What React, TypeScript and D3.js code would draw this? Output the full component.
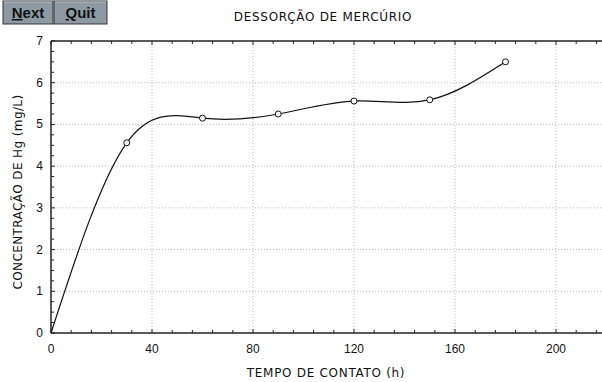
import React from "react";
import * as d3 from "d3";

const tempo = [0, 30, 60, 90, 120, 150, 180];
const concentracao = [0, 4.56, 5.15, 5.25, 5.56, 5.59, 6.5];
const xTicks = [0, 40, 80, 120, 160, 200];
const yTicks = [0, 1, 2, 3, 4, 5, 6, 7];

const W = 602,
	H = 382;
const margin = { top: 41, left: 51, bottom: 49 };
const font = "Arial, 'Liberation Sans', sans-serif";
const wide = "'DejaVu Sans', Verdana, sans-serif";

export default function App() {
	const x = d3.scaleLinear().domain([0, 220]).range([margin.left, margin.left + 220 * 2.525]);
	const y = d3.scaleLinear().domain([0, 7]).range([H - margin.bottom, margin.top]);
	const x0 = x(0),
		y0 = y(0),
		yTop = y(7);

	const line = d3
		.line<number>()
		.x((d, i) => x(tempo[i]))
		.y((d) => y(d))
		.curve(d3.curveNatural);

	const xMinor = d3.range(0, 224, 8);
	const yMinor = d3.range(0, 7.01, 0.25);

	return (
		<svg width={W} height={H} style={{ position: "absolute", left: 0, top: 0, background: "#fff" }}>
			{/* buttons */}
			{[
				{ label: "Next", bx: 3, bw: 50 },
				{ label: "Quit", bx: 54, bw: 53 },
			].map((b) => (
				<g key={b.label}>
					<rect x={b.bx} y={1} width={b.bw} height={23} fill="#8d9aa3" stroke="#333" strokeWidth={1} />
					<line x1={b.bx + 1} y1={2} x2={b.bx + b.bw - 1} y2={2} stroke="#b8c2c9" />
					<text
						x={b.bx + b.bw / 2}
						y={18}
						textAnchor="middle"
						fontFamily={font}
						fontWeight="bold"
						fontSize={15}
						fill="#111"
					>
						<tspan textDecoration="underline">{b.label[0]}</tspan>
						{b.label.slice(1)}
					</text>
				</g>
			))}

			<text x={323} y={21} textAnchor="middle" fontFamily={wide} fontSize={12} letterSpacing={0.7} fill="#111">
				DESSORÇÃO DE MERCÚRIO
			</text>

			{/* grid */}
			{xTicks.slice(1).map((t) => (
				<line key={"gx" + t} x1={x(t)} x2={x(t)} y1={y0} y2={yTop} stroke="#bbb" strokeDasharray="1,2" />
			))}
			{yTicks.slice(1, -1).map((t) => (
				<line key={"gy" + t} x1={x0} x2={W} y1={y(t)} y2={y(t)} stroke="#bbb" strokeDasharray="1,2" />
			))}

			{/* minor ticks */}
			{xMinor.map((t) => (
				<g key={"mx" + t} stroke="#222">
					<line x1={x(t)} x2={x(t)} y1={y0} y2={y0 - (t % 40 === 0 ? 4 : 3)} />
					<line x1={x(t)} x2={x(t)} y1={yTop} y2={yTop + (t % 40 === 0 ? 4 : 3)} />
				</g>
			))}
			{yMinor.map((t) => (
				<line key={"my" + t} x1={x0} x2={x0 + (t % 1 === 0 ? 4 : 3)} y1={y(t)} y2={y(t)} stroke="#222" />
			))}

			{/* axes frame */}
			<line x1={x0} x2={x0} y1={y0} y2={yTop} stroke="#222" strokeWidth={1.5} />
			<line x1={x0} x2={W} y1={y0} y2={y0} stroke="#222" strokeWidth={1.5} />
			<line x1={x0} x2={W} y1={yTop} y2={yTop} stroke="#222" strokeWidth={1.5} />

			{/* tick labels */}
			{xTicks.map((t) => (
				<text key={"tx" + t} x={x(t)} y={353} textAnchor="middle" fontFamily={font} fontSize={12} fill="#111">
					{t}
				</text>
			))}
			{yTicks.map((t) => (
				<text key={"ty" + t} x={43} y={y(t) + 4} textAnchor="end" fontFamily={font} fontSize={12} fill="#111">
					{t}
				</text>
			))}

			{/* axis titles */}
			<text x={326} y={377} textAnchor="middle" fontFamily={wide} fontSize={12} letterSpacing={0.7} fill="#111">
				TEMPO DE CONTATO (h)
			</text>
			<text
				transform={`translate(22,${(y0 + yTop) / 2 + 5}) rotate(-90)`}
				textAnchor="middle"
				fontFamily={wide}
				fontSize={12}
				letterSpacing={0.4}
				fill="#111"
			>
				CONCENTRAÇÃO DE Hg (mg/L)
			</text>

			{/* curve */}
			<path d={line(concentracao) || ""} fill="none" stroke="#111" strokeWidth={1.2} />
			{concentracao.slice(1).map((v, i) => (
				<circle key={"p" + i} cx={x(tempo[i + 1])} cy={y(v)} r={3} fill="#fff" stroke="#111" strokeWidth={1} />
			))}
		</svg>
	);
}
